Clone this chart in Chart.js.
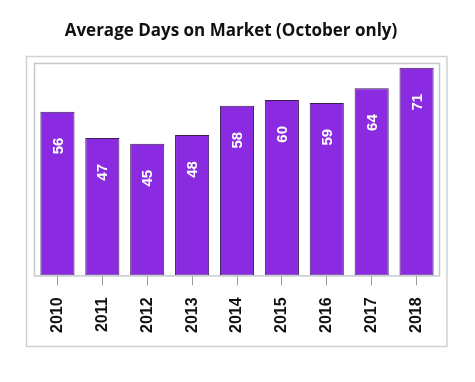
<!DOCTYPE html>
<html>
<head>
<meta charset="utf-8">
<script src="https://cdn.jsdelivr.net/npm/chart.js@4"></script>
<style>
html,body{margin:0;padding:0;background:#fff;}
#wrap{width:475px;height:382px;position:relative;}
</style>
</head>
<body>
<div id="wrap"><canvas id="c" width="475" height="382"></canvas></div>
<script>
const titleText = "Average Days on Market (October only)";
const years = ["2010","2011","2012","2013","2014","2015","2016","2017","2018"];
const avgDays = [56, 47, 45, 48, 58, 60, 59, 64, 71];
const yMax = 72.3;

const framePlugin = {
  id: 'frame',
  beforeDraw(chart) {
    const ctx = chart.ctx;
    ctx.save();
    ctx.fillStyle = '#fff';
    ctx.fillRect(0, 0, chart.width, chart.height);
    ctx.strokeStyle = '#d2d2d2';
    ctx.lineWidth = 1.5;
    ctx.strokeRect(26.5, 56.5, 420.5, 290);
    ctx.fillStyle = '#111';
    ctx.font = 'bold 17px "Open Sans"';
    ctx.textAlign = 'center';
    ctx.textBaseline = 'middle';
    ctx.fillText(titleText, 231, 31);
    ctx.restore();
  },
  afterDatasetsDraw(chart) {
    const ctx = chart.ctx;
    const a = chart.chartArea;
    ctx.save();
    ctx.strokeStyle = '#c4c8cf';
    ctx.lineWidth = 1.5;
    ctx.strokeRect(a.left - 0.5, a.top - 0.5, a.right - a.left + 1, a.bottom - a.top + 1);
    const meta = chart.getDatasetMeta(0);
    ctx.fillStyle = '#fff';
    ctx.font = 'bold 15px "Liberation Sans"';
    ctx.textAlign = 'right';
    ctx.textBaseline = 'middle';
    meta.data.forEach((bar, i) => {
      ctx.save();
      ctx.translate(bar.x, bar.y + 26);
      ctx.rotate(-Math.PI / 2);
      ctx.fillText(String(avgDays[i]), 0, 1);
      ctx.restore();
    });
    ctx.restore();
  }
};

new Chart(document.getElementById('c'), {
  type: 'bar',
  data: {
    labels: years,
    datasets: [{
      data: avgDays,
      backgroundColor: '#8a2be2',
      borderColor: '#3a1f4d',
      borderWidth: 1,
      borderSkipped: false,
      categoryPercentage: 1,
      barPercentage: 0.76
    }]
  },
  options: {
    responsive: false,
    animation: false,
    devicePixelRatio: 1,
    layout: { padding: { left: 35, right: 36, top: 64, bottom: 37 } },
    plugins: {
      legend: { display: false },
      tooltip: { enabled: false },
      title: { display: false }
    },
    scales: {
      x: {
        grid: { display: true, offset: false, drawOnChartArea: false, drawTicks: true, tickLength: 10, color: '#9a9a9a', lineWidth: 1 },
        border: { display: false },
        ticks: {
          minRotation: 90, maxRotation: 90, padding: 12,
          color: '#111',
          font: { family: '"Liberation Sans"', size: 16, weight: 'bold' }
        }
      },
      y: {
        display: false,
        min: 0,
        max: yMax
      }
    }
  },
  plugins: [framePlugin]
});
</script>
</body>
</html>
